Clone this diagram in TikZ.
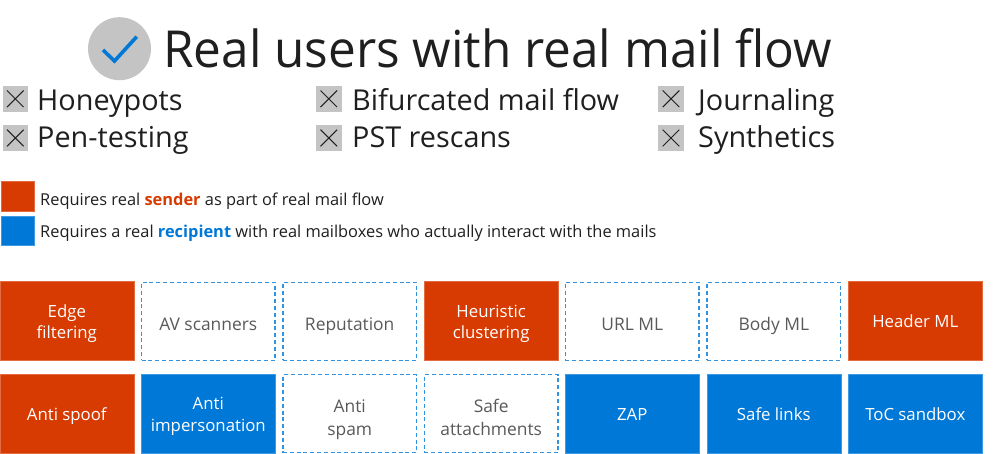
\documentclass[tikz,border=0pt]{standalone}
\usepackage{fontspec}
\setmainfont{Open Sans}
\newfontfamily\titlefont[FakeStretch=0.97]{Open Sans}
\definecolor{mso}{HTML}{D83B01}
\definecolor{msb}{HTML}{0078D7}
\definecolor{ink}{HTML}{1F1F1F}
\definecolor{graytx}{HTML}{595959}
\definecolor{chip}{HTML}{C4C4C4}
\newcommand{\Lbl}[2]{\raisebox{-#1pt}[0pt][0pt]{\makebox[0pt][c]{#2}}}
\tikzset{x=1pt,y=-1pt,
 base/.style={minimum width=134pt,minimum height=79pt,inner sep=0pt,font=\fontsize{16.8}{21}\selectfont,anchor=center},
 orangebox/.style={base,fill=mso,draw=mso!75!white,line width=.5pt,text=white},
 bluebox/.style={base,fill=msb,draw=msb!75!white,line width=.5pt,text=white},
 dashbox/.style={base,draw=msb!80!white,dash pattern=on 4pt off 2.8pt,line width=1.3pt,text=graytx,minimum width=133.5pt,minimum height=78pt,font=\fontsize{17.4}{21}\selectfont},
 xchip/.style={fill=chip,minimum size=25.5pt,inner sep=0pt,anchor=center},
 itemtx/.style={anchor=base west,inner sep=0pt,text=ink,font=\fontsize{28.8}{32}\selectfont},
 legtx/.style={anchor=base west,inner sep=0pt,text=ink,font=\fontsize{16.4}{20}\selectfont},
 legchip/.style={minimum width=33pt,minimum height=29.5pt,inner sep=0pt,anchor=center,line width=.6pt}}
\newcommand{\xmark}[1]{\draw[line width=1pt,ink] ([shift={(-8.3pt,-8.3pt)}]#1.center) -- ([shift={(8.3pt,8.3pt)}]#1.center) ([shift={(-8.3pt,8.3pt)}]#1.center) -- ([shift={(8.3pt,-8.3pt)}]#1.center);}
\begin{document}
\begin{tikzpicture}
\useasboundingbox (0,0) rectangle (999,454);
\node[circle,fill=chip,minimum size=63pt,inner sep=0pt] (tick) at (119.5,48.7) {};
\draw[msb,line width=3.6pt] (103,50) -- (114.5,61) -- (136.7,36.7);
\node[anchor=base west,inner sep=0pt,text=ink,font=\titlefont\fontsize{51}{60}\selectfont] (title) at (163,68) {Real users with real mail flow};
\node[xchip] (c1) at (15.3,98.8) {}; \xmark{c1}
\node[xchip] (c2) at (15.3,138) {}; \xmark{c2}
\node[xchip] (c3) at (328.8,98.8) {}; \xmark{c3}
\node[xchip] (c4) at (328.8,138) {}; \xmark{c4}
\node[xchip] (c5) at (671,98.8) {}; \xmark{c5}
\node[xchip] (c6) at (671,138) {}; \xmark{c6}
\node[itemtx] (i1) at (37,111) {Honeypots};
\node[itemtx] (i2) at (37,148) {Pen-testing};
\node[itemtx] (i3) at (352,111) {Bifurcated mail flow};
\node[itemtx] (i4) at (352,148) {PST rescans};
\node[itemtx] (i5) at (698,111) {Journaling};
\node[itemtx] (i6) at (698,148) {Synthetics};
\node[legchip,fill=mso,draw=mso!75!white] (l1) at (18.2,196.3) {};
\node[legchip,fill=msb,draw=msb!75!white] (l2) at (18.2,231) {};
\node[legtx] (t1) at (40,206) {Requires real \textcolor{mso}{\textbf{sender}} as part of real mail flow};
\node[legtx] (t2) at (40,237.7) {Requires a real \textcolor{msb}{\textbf{recipient}} with real mailboxes who actually interact with the mails};
\node[orangebox] (a1) at (66.8,321.2) {\Lbl{-3.2}{Edge}\Lbl{17}{filtering}};
\node[dashbox] (a2) at (208.3,321.2) {\Lbl{9.5}{AV scanners}};
\node[dashbox] (a3) at (349.7,321.2) {\Lbl{9}{Reputation}};
\node[orangebox] (a4) at (491.2,321.2) {\Lbl{-3.9}{Heuristic}\Lbl{17}{clustering}};
\node[dashbox] (a5) at (632.2,321.2) {\Lbl{9.3}{URL ML}};
\node[dashbox] (a6) at (773.8,321.2) {\Lbl{9.3}{Body ML}};
\node[orangebox] (a7) at (915.3,321.2) {\Lbl{6.5}{Header ML}};
\node[orangebox] (b1) at (66.8,413.8) {\Lbl{7.2}{Anti spoof}};
\node[bluebox] (b2) at (208.3,413.8) {\Lbl{-3.8}{Anti}\Lbl{17.2}{impersonation}};
\node[dashbox] (b3) at (349.7,413.8) {\Lbl{-1.5}{Anti}\Lbl{21.9}{spam}};
\node[dashbox] (b4) at (491.2,413.8) {\Lbl{-1.5}{Safe}\Lbl{21.9}{attachments}};
\node[bluebox] (b5) at (632.2,413.8) {\Lbl{7.2}{ZAP}};
\node[bluebox] (b6) at (773.8,413.8) {\Lbl{7.2}{Safe links}};
\node[bluebox] (b7) at (915.3,413.8) {\Lbl{7.2}{ToC sandbox}};
\end{tikzpicture}
\end{document}
